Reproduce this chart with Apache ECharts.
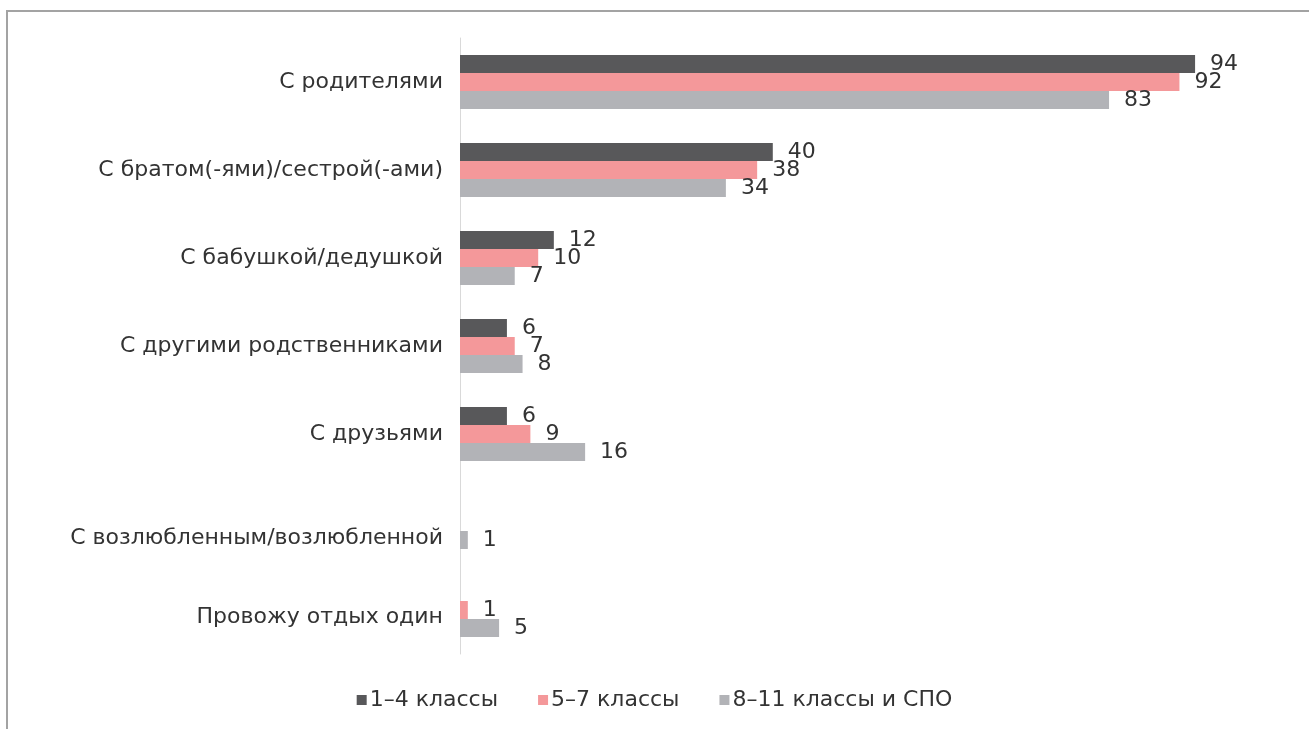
<!DOCTYPE html>
<html>
<head>
<meta charset="utf-8">
<script src="https://cdn.jsdelivr.net/npm/echarts@6/dist/echarts.min.js"></script>
<style>
  html, body { margin: 0; padding: 0; background: #fff; }
  #main { position: absolute; left: 0; top: 0; width: 1309px; height: 729px; }
  .frame { position: absolute; left: 6px; top: 10px; width: 1310px; height: 730px;
           border-left: 2px solid #a3a3a3; border-top: 2px solid #a3a3a3; }
</style>
</head>
<body>
<div class="frame"></div>
<div id="main"></div>
<script>
  // категории и значения (%)
  var categories = [
    "С родителями",
    "С братом(-ями)/сестрой(-ами)",
    "С бабушкой/дедушкой",
    "С другими родственниками",
    "С друзьями",
    "С возлюбленным/возлюбленной",
    "Провожу отдых один"
  ];
  var seriesNames = ["1–4 классы", "5–7 классы", "8–11 классы и СПО"];
  var grade1to4 = [94, 40, 12, 6, 6, "-", "-"];
  var grade5to7 = [92, 38, 10, 7, 9, "-", 1];
  var grade8to11 = [83, 34, 7, 8, 16, 1, 5];

  var myChart = echarts.init(document.getElementById("main"));
  var font = "'DejaVu Sans', sans-serif";
  var fs = 22;

  function makeSeries(name, data) {
    return {
      name: name,
      type: "bar",
      data: data,
      barWidth: 18,
      barGap: "0%",
      label: {
        show: true,
        position: "right",
        distance: 15,
        color: "#333",
        fontSize: fs,
        fontFamily: font
      }
    };
  }

  var option = {
    color: ["#58585a", "#f4989a", "#b2b3b7"],
    animation: false,
    grid: { left: 460, top: 38, width: 782, height: 616 },
    legend: {
      bottom: 13,
      left: "center",
      itemWidth: 10,
      itemHeight: 10,
      itemGap: 40,
      icon: "rect",
      textStyle: { color: "#333", fontSize: fs, fontFamily: font, padding: [0, 0, 0, -2] },
      data: seriesNames
    },
    xAxis: {
      type: "value",
      min: 0,
      max: 100,
      show: false
    },
    yAxis: {
      type: "category",
      inverse: true,
      data: categories,
      axisTick: { show: false },
      axisLine: { lineStyle: { color: "#d9d9d9", width: 1 } },
      axisLabel: {
        color: "#333",
        fontSize: fs,
        fontFamily: font,
        margin: 17,
        // две нижние подписи в оригинале сдвинуты вниз
        formatter: function (value, index) {
          if (index === 5) return "{a|" + value + "}";
          if (index === 6) return "{b|" + value + "}";
          return value;
        },
        rich: {
          a: { color: "#333", fontSize: fs, fontFamily: font, padding: [32, 0, 0, 0] },
          b: { color: "#333", fontSize: fs, fontFamily: font, padding: [14, 0, 0, 0] }
        }
      }
    },
    series: [
      makeSeries(seriesNames[0], grade1to4),
      makeSeries(seriesNames[1], grade5to7),
      makeSeries(seriesNames[2], grade8to11)
    ]
  };

  myChart.setOption(option);
  window.addEventListener("resize", function () {
    myChart.resize();
  });
</script>
</body>
</html>
